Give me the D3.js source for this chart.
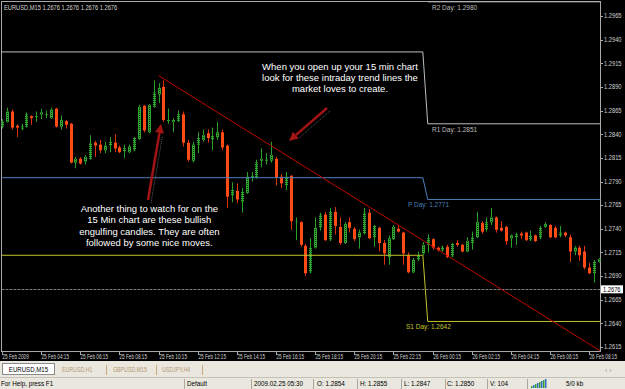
<!DOCTYPE html>
<head>
  <meta charset="utf-8">
  <style>
    body { margin: 0; background: #000; }
    svg { display: block; }
    text { font-family: "Liberation Sans", Arial, sans-serif; }
  </style>
  <script src="https://cdn.jsdelivr.net/npm/d3@7"></script>
</head>
<body>
<svg id=chart width="625" height="389"></svg>

<script>
// EURUSD M15, 25 Feb 2009 02:15 .. 26 Feb 2009 08:45 (one bar per 15 min)
const symbol = 'EURUSD,M15'
const lastQuote = [1.2676, 1.2676, 1.2676, 1.2676]
const bid = 1.2676

const open = [
  1.2848, 1.2853, 1.2864, 1.2849, 1.2846, 1.2848, 1.2859, 1.2858, 1.2861, 1.2860,
  1.2857, 1.2867, 1.2848, 1.2854, 1.2851, 1.2810, 1.2814, 1.2811, 1.2814, 1.2831,
  1.2829, 1.2823, 1.2828, 1.2831, 1.2826, 1.2822, 1.2821, 1.2823, 1.2835, 1.2870,
  1.2842, 1.2869, 1.2882, 1.2890, 1.2854, 1.2853, 1.2854, 1.2861, 1.2831, 1.2812,
  1.2829, 1.2834, 1.2841, 1.2834, 1.2837, 1.2842, 1.2828, 1.2775, 1.2780, 1.2768,
  1.2778, 1.2795, 1.2794, 1.2812, 1.2812, 1.2812, 1.2814, 1.2795, 1.2786, 1.2796,
  1.2747, 1.2747, 1.2722, 1.2694, 1.2720, 1.2741, 1.2755, 1.2728, 1.2758, 1.2742,
  1.2725, 1.2747, 1.2740, 1.2731, 1.2735, 1.2757, 1.2731, 1.2741, 1.2725, 1.2710,
  1.2729, 1.2740, 1.2736, 1.2712, 1.2694, 1.2707, 1.2714, 1.2723, 1.2729, 1.2720,
  1.2717, 1.2721, 1.2711, 1.2725, 1.2723, 1.2716, 1.2725, 1.2731, 1.2746, 1.2739,
  1.2747, 1.2752, 1.2741, 1.2742, 1.2730, 1.2731, 1.2735, 1.2736, 1.2728, 1.2733,
  1.2730, 1.2742, 1.2744, 1.2741, 1.2733, 1.2736, 1.2731, 1.2716, 1.2720, 1.2716,
  1.2699, 1.2693, 1.2705
]
const high = [
  1.2856, 1.2868, 1.2866, 1.2850, 1.2851, 1.2863, 1.2860, 1.2864, 1.2867, 1.2865,
  1.2868, 1.2868, 1.2860, 1.2855, 1.2852, 1.2816, 1.2816, 1.2818, 1.2839, 1.2833,
  1.2834, 1.2832, 1.2837, 1.2840, 1.2828, 1.2829, 1.2829, 1.2837, 1.2871, 1.2871,
  1.2872, 1.2897, 1.2894, 1.2897, 1.2867, 1.2857, 1.2865, 1.2864, 1.2834, 1.2832,
  1.2842, 1.2845, 1.2845, 1.2847, 1.2853, 1.2845, 1.2829, 1.2789, 1.2788, 1.2783,
  1.2800, 1.2800, 1.2813, 1.2825, 1.2820, 1.2832, 1.2816, 1.2798, 1.2800, 1.2797,
  1.2752, 1.2748, 1.2724, 1.2730, 1.2752, 1.2757, 1.2758, 1.2762, 1.2763, 1.2752,
  1.2747, 1.2752, 1.2742, 1.2739, 1.2762, 1.2761, 1.2744, 1.2742, 1.2728, 1.2733,
  1.2744, 1.2744, 1.2737, 1.2715, 1.2709, 1.2716, 1.2726, 1.2734, 1.2730, 1.2721,
  1.2722, 1.2723, 1.2725, 1.2728, 1.2724, 1.2731, 1.2737, 1.2758, 1.2748, 1.2752,
  1.2762, 1.2753, 1.2748, 1.2743, 1.2734, 1.2736, 1.2737, 1.2737, 1.2738, 1.2734,
  1.2743, 1.2747, 1.2745, 1.2743, 1.2743, 1.2737, 1.2734, 1.2722, 1.2722, 1.2722,
  1.2704, 1.2707, 1.2709
]
const low = [
  1.2846, 1.2852, 1.2845, 1.2837, 1.2844, 1.2847, 1.2850, 1.2853, 1.2856, 1.2857,
  1.2856, 1.2847, 1.2845, 1.2846, 1.2809, 1.2804, 1.2808, 1.2808, 1.2813, 1.2816,
  1.2820, 1.2820, 1.2821, 1.2821, 1.2820, 1.2815, 1.2820, 1.2822, 1.2834, 1.2842,
  1.2841, 1.2868, 1.2873, 1.2853, 1.2851, 1.2842, 1.2853, 1.2827, 1.2811, 1.2810,
  1.2820, 1.2832, 1.2831, 1.2823, 1.2834, 1.2823, 1.2762, 1.2768, 1.2767, 1.2757,
  1.2777, 1.2790, 1.2793, 1.2805, 1.2808, 1.2810, 1.2786, 1.2783, 1.2781, 1.2739,
  1.2728, 1.2721, 1.2690, 1.2693, 1.2719, 1.2738, 1.2727, 1.2727, 1.2734, 1.2723,
  1.2724, 1.2736, 1.2727, 1.2719, 1.2734, 1.2729, 1.2721, 1.2716, 1.2702, 1.2702,
  1.2728, 1.2736, 1.2702, 1.2693, 1.2693, 1.2706, 1.2712, 1.2715, 1.2718, 1.2716,
  1.2716, 1.2709, 1.2710, 1.2721, 1.2715, 1.2715, 1.2718, 1.2730, 1.2735, 1.2737,
  1.2744, 1.2736, 1.2737, 1.2723, 1.2720, 1.2723, 1.2729, 1.2727, 1.2727, 1.2726,
  1.2729, 1.2741, 1.2730, 1.2730, 1.2731, 1.2731, 1.2705, 1.2712, 1.2706, 1.2697,
  1.2692, 1.2683, 1.2704
]
const close = [
  1.2854, 1.2864, 1.2847, 1.2847, 1.2848, 1.2861, 1.2857, 1.2859, 1.2863, 1.2861,
  1.2866, 1.2848, 1.2855, 1.2850, 1.2810, 1.2814, 1.2809, 1.2816, 1.2831, 1.2828,
  1.2823, 1.2828, 1.2832, 1.2825, 1.2821, 1.2825, 1.2827, 1.2836, 1.2869, 1.2844,
  1.2871, 1.2884, 1.2889, 1.2855, 1.2855, 1.2855, 1.2861, 1.2831, 1.2813, 1.2829,
  1.2836, 1.2839, 1.2836, 1.2838, 1.2842, 1.2826, 1.2774, 1.2781, 1.2771, 1.2779,
  1.2795, 1.2796, 1.2810, 1.2814, 1.2814, 1.2818, 1.2794, 1.2788, 1.2795, 1.2748,
  1.2748, 1.2723, 1.2693, 1.2720, 1.2741, 1.2755, 1.2728, 1.2758, 1.2743, 1.2725,
  1.2745, 1.2741, 1.2729, 1.2736, 1.2757, 1.2730, 1.2743, 1.2725, 1.2714, 1.2730,
  1.2742, 1.2737, 1.2714, 1.2694, 1.2707, 1.2712, 1.2723, 1.2730, 1.2720, 1.2717,
  1.2721, 1.2710, 1.2724, 1.2723, 1.2716, 1.2727, 1.2731, 1.2747, 1.2737, 1.2747,
  1.2752, 1.2739, 1.2738, 1.2727, 1.2733, 1.2734, 1.2733, 1.2728, 1.2733, 1.2727,
  1.2741, 1.2745, 1.2731, 1.2731, 1.2736, 1.2733, 1.2716, 1.2720, 1.2712, 1.2699,
  1.2693, 1.2705, 1.2708
]

const xTickBars = [0, 8, 16, 24, 32, 40, 48, 56, 64, 72, 80, 88, 96, 104, 112, 120]
const xTickLabels = [
  '25 Feb 2009', '25 Feb 04:15', '25 Feb 06:15', '25 Feb 08:15', '25 Feb 10:15',
  '25 Feb 12:15', '25 Feb 14:15', '25 Feb 16:15', '25 Feb 18:15', '25 Feb 20:15',
  '25 Feb 22:15', '26 Feb 00:15', '26 Feb 02:15', '26 Feb 04:15', '26 Feb 06:15',
  '26 Feb 08:15'
]
const yTicks = [
  1.2965, 1.2940, 1.2915, 1.2890, 1.2865, 1.2840, 1.2815, 1.2790,
  1.2765, 1.2740, 1.2715, 1.2690, 1.2665, 1.2640, 1.2615
]

// daily pivots: yesterday's levels, then today's from the 00:00 bar
const pivotNames = ['R2 Day', 'R1 Day', 'P Day', 'S1 Day']
const pivotPrev = [1.3010, 1.2927, 1.2794, 1.2712]
const pivotToday = [1.2980, 1.2851, 1.2771, 1.2642]
const dayBreakBar = 87

// hand drawn trend line
const trendBars = [32, 122.2]
const trendPrices = [1.2902, 1.2611]

const note1 = ['When you open up your 15 min chart', 'look for these intraday trend lines the', 'market loves to create.']
const note2 = ['Another thing to watch for on the', '15 Min chart are these bullish', 'engulfing candles. They are often', 'followed by some nice moves.']

const tabs = ['EURUSD,M15', 'EURUSD,H1', 'GBPUSD,M15', 'USDJPY,H4']
const statusTexts = ['For Help, press F1', 'Default', '2009.02.25 05:30', 'O: 1.2854', 'H: 1.2855', 'L: 1.2847', 'C: 1.2850', 'V: 104', '5/0 kb']

// ---------------------------------------------------------------
const svg = d3.select('#chart')
const W = +svg.attr('width'), H = +svg.attr('height')
const plot = { left: 1.5, top: 1.5, right: 600.5, bottom: 351.5 }

const x = d3.scaleLinear().domain([0, open.length - 1]).range([2, 599])
const y = d3.scaleLinear().domain([1.2615, 1.2965]).range([347, 16])

// the terminal font is narrower than Arial: squeeze glyphs horizontally
const squeeze = (sel, k) => sel.each(function () {
  const len = this.getComputedTextLength()
  d3.select(this).attr('textLength', len * k).attr('lengthAdjust', 'spacingAndGlyphs')
})

const defs = svg.append('defs')
defs.append('clipPath').attr('id', 'plotclip')
  .append('rect').attr('x', plot.left).attr('y', plot.top)
  .attr('width', plot.right - plot.left).attr('height', plot.bottom - plot.top)
const pat = defs.append('pattern').attr('id', 'bull')
  .attr('width', 2).attr('height', 2).attr('patternUnits', 'userSpaceOnUse')
pat.append('rect').attr('width', 2).attr('height', 2).attr('fill', '#2fa52f')
pat.append('rect').attr('x', 1).attr('y', 1).attr('width', 1).attr('height', 1).attr('fill', '#0b2a0b')

svg.append('rect').attr('width', W).attr('height', H).attr('fill', '#000')

// frame
svg.append('rect')
  .attr('x', plot.left).attr('y', plot.top)
  .attr('width', plot.right - plot.left).attr('height', plot.bottom - plot.top)
  .attr('fill', 'none').attr('stroke', '#a9a9a9')

const g = svg.append('g').attr('clip-path', 'url(#plotclip)')

// candles
const bars = d3.range(open.length)
const cx = i => Math.round(x(i))
g.append('g').selectAll('line').data(bars).join('line')
  .attr('x1', i => cx(i) + 0.5).attr('x2', i => cx(i) + 0.5)
  .attr('y1', i => y(high[i])).attr('y2', i => y(low[i]))
  .attr('stroke', i => close[i] >= open[i] ? '#27a127' : '#e3300c')
g.append('g').selectAll('rect').data(bars).join('rect')
  .attr('x', i => cx(i) - 1).attr('width', 3)
  .attr('y', i => y(Math.max(open[i], close[i])))
  .attr('height', i => Math.max(1, Math.abs(y(open[i]) - y(close[i]))))
  .attr('fill', i => close[i] >= open[i] ? 'url(#bull)' : '#ff4b16')

// pivot lines
const pivotColors = ['#bdbdbd', '#bdbdbd', '#4b7fba', '#c4c42a']
const pivotLine = d3.line().x(d => x(d[0])).y(d => y(d[1]))
pivotNames.forEach((name, k) => {
  const pts = [[-2, pivotPrev[k]], [dayBreakBar - 1, pivotPrev[k]], [dayBreakBar, pivotToday[k]], [open.length + 2, pivotToday[k]]]
  g.append('path').attr('d', pivotLine(pts))
    .attr('fill', 'none').attr('stroke', pivotColors[k]).attr('stroke-width', 1)
})

// bid line
g.append('line')
  .attr('x1', plot.left).attr('x2', plot.right)
  .attr('y1', Math.round(y(bid)) + 0.5).attr('y2', Math.round(y(bid)) + 0.5)
  .attr('stroke', '#7a7a7a').attr('stroke-dasharray', '3,1')

// trend line
g.append('line')
  .attr('x1', x(trendBars[0])).attr('y1', y(trendPrices[0]))
  .attr('x2', x(trendBars[1])).attr('y2', y(trendPrices[1]))
  .attr('stroke', '#c00000').attr('stroke-width', 1)

// pivot labels
const labelX = [432, 432, 408, 406]
pivotNames.forEach((name, k) => {
  svg.append('text')
    .attr('x', labelX[k]).attr('y', y(pivotToday[k]) + 8)
    .attr('fill', pivotColors[k]).attr('font-size', 6.5)
    .text(`${name}: ${pivotToday[k].toFixed(4)}`)
})

// header
svg.append('text').attr('x', 4).attr('y', 10)
  .attr('fill', '#d4d4d4').attr('font-size', 6.5)
  .text(`${symbol}  ${lastQuote.map(d => d.toFixed(4)).join(' ')}`)
  .call(squeeze, 0.88)

// y axis
const ya = svg.append('g')
ya.selectAll('line').data(yTicks).join('line')
  .attr('x1', 600).attr('x2', 603)
  .attr('y1', d => Math.round(y(d)) + 0.5).attr('y2', d => Math.round(y(d)) + 0.5)
  .attr('stroke', '#a9a9a9')
ya.selectAll('text').data(yTicks).join('text')
  .attr('x', 604).attr('y', d => y(d) + 2.3)
  .attr('fill', '#d0d0d0').attr('font-size', 6.5)
  .text(d => d.toFixed(4))
  .call(squeeze, 0.88)

// bid tag
svg.append('rect').attr('x', 601).attr('y', y(bid) - 4).attr('width', 22).attr('height', 8).attr('fill', '#fff')
svg.append('text').attr('x', 603).attr('y', y(bid) + 2.3)
  .attr('fill', '#000').attr('font-size', 6.5).text(bid.toFixed(4))
  .call(squeeze, 0.88)

// x axis
const xa = svg.append('g')
xa.selectAll('line').data(xTickBars).join('line')
  .attr('x1', d => cx(d) + 0.5).attr('x2', d => cx(d) + 0.5)
  .attr('y1', 351).attr('y2', 355)
  .attr('stroke', '#a9a9a9')
xa.selectAll('text').data(xTickBars).join('text')
  .attr('transform', d => `translate(${cx(d) + 0.5},359) scale(0.72,1)`)
  .attr('fill', '#d0d0d0').attr('font-size', 6.5)
  .text((d, i) => xTickLabels[i])

// annotations
const noteText = (lines, cxp, y0) => {
  svg.append('g').selectAll('text').data(lines).join('text')
    .attr('x', cxp).attr('y', (d, i) => y0 + i * 11.3)
    .attr('text-anchor', 'middle').attr('fill', '#fff').attr('font-size', 9.5)
    .text(d => d)
}
noteText(note1, 340, 69.5)
noteText(note2, 149.3, 212)

const arrow = (x1, y1, x2, y2) => {
  const a = Math.atan2(y2 - y1, x2 - x1)
  const len = 9, wid = 4.5
  const bx = x2 - len * Math.cos(a), by = y2 - len * Math.sin(a)
  const px = -Math.sin(a) * wid, py = Math.cos(a) * wid
  // dotted shadow
  svg.append('line').attr('x1', x1 + 3).attr('y1', y1 + 3).attr('x2', bx + 3).attr('y2', by + 3)
    .attr('stroke', '#5a5a5a').attr('stroke-dasharray', '1,1')
  svg.append('line').attr('x1', x1).attr('y1', y1).attr('x2', bx).attr('y2', by)
    .attr('stroke', '#a31414').attr('stroke-width', 2.5)
  svg.append('path')
    .attr('d', `M${x2},${y2}L${bx + px},${by + py}L${bx - px},${by - py}Z`)
    .attr('fill', '#a31414')
}
arrow(327, 108, 289, 141)
arrow(148, 200, 161, 124)

// tab bar + status bar
svg.append('rect').attr('x', 0).attr('y', 361).attr('width', W).attr('height', H - 361).attr('fill', '#e9e7de')
svg.append('line').attr('x1', 0).attr('x2', W).attr('y1', 377.5).attr('y2', 377.5).attr('stroke', '#c4c2b8')
svg.append('rect').attr('x', 2.5).attr('y', 363.5).attr('width', 52).attr('height', 11).attr('fill', '#fff').attr('stroke', '#8a8a8a')
const tabX = [28.5, 62, 113, 162]
const tabSep = [106, 156, 202]
tabs.forEach((t, k) => {
  svg.append('text').attr('x', tabX[k]).attr('y', 372)
    .attr('text-anchor', k === 0 ? 'middle' : 'start')
    .attr('fill', k === 0 ? '#000' : '#b4966e').attr('font-size', 7).text(t)
    .call(squeeze, k === 0 ? 0.87 : 0.75)
})
tabSep.forEach(sx => svg.append('line').attr('x1', sx + 0.5).attr('x2', sx + 0.5).attr('y1', 365).attr('y2', 375).attr('stroke', '#c9ab82'))
svg.append('text').attr('x', 605).attr('y', 373).attr('fill', '#a0a0a0').attr('font-size', 7).text('‹  ›')

const statusX = [1, 187, 254, 317, 360, 404, 447, 490, 566]
const statusSep = [184, 251, 313, 357, 401, 445, 487, 527]
statusTexts.forEach((t, k) => {
  svg.append('text').attr('x', statusX[k]).attr('y', 385.5)
    .attr('fill', '#000').attr('font-size', 7).text(t)
    .call(squeeze, 0.9)
})
statusSep.forEach(sx => svg.append('line').attr('x1', sx + 0.5).attr('x2', sx + 0.5).attr('y1', 379).attr('y2', 389).attr('stroke', '#a9a79e'))
// connection icon
d3.range(8).forEach(k => {
  svg.append('rect').attr('x', 531 + k * 2).attr('y', 388 - (k + 2)).attr('width', 1.5).attr('height', k + 2)
    .attr('fill', k % 2 ? '#2f6fc0' : '#3c9a3c')
})
</script>
</body>
